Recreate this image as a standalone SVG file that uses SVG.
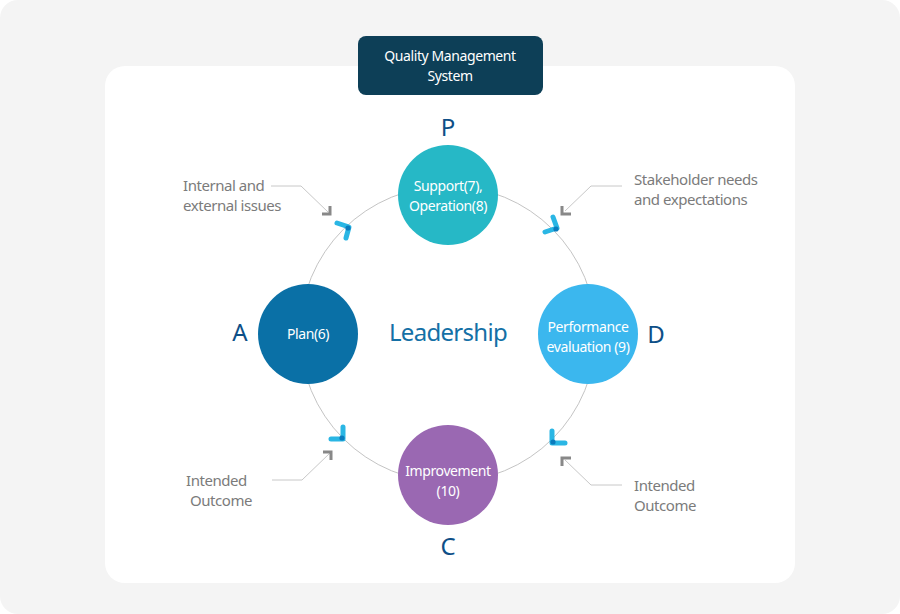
<svg xmlns="http://www.w3.org/2000/svg" width="900" height="614" viewBox="0 0 900 614">
<style>
.lbl{font-family:"Noto Sans","Liberation Sans",sans-serif;font-size:15px;fill:#7b7b7b;letter-spacing:-0.45px}
.nt{font-family:"Noto Sans","Liberation Sans",sans-serif;font-size:14px;fill:#fff;text-anchor:middle;letter-spacing:-0.4px}
.big{font-family:"Noto Sans","Liberation Sans",sans-serif;font-size:24px;fill:#0e4f87;text-anchor:middle}
.cy{fill:none;stroke:#2ab6e4;stroke-width:5;stroke-linecap:round;stroke-linejoin:round}
.gr{fill:none;stroke:#888;stroke-width:3}
.ld{fill:none;stroke:#c8c8c8;stroke-width:1}
</style>
<rect x="0" y="0" width="900" height="614" rx="18" fill="#f4f4f4"/>
<rect x="105" y="66" width="690" height="517" rx="20" fill="#fff"/>
<g id="title">
<rect x="358" y="36" width="185" height="59" rx="8" fill="#0d3f57"/>
<text class="nt" x="450" y="61">Quality Management</text>
<text class="nt" x="450" y="81">System</text>
</g>
<g id="connectors">
<circle cx="448" cy="334" r="148" fill="none" stroke="#c4c4c4" stroke-width="1"/>
<path class="ld" d="M271,186 H301 L328,212"/>
<path class="ld" d="M622,186 H591 L565,211"/>
<path class="ld" d="M622,485 H591 L565,460"/>
<path class="ld" d="M272,480 H302 L330,453"/>
<path class="gr" d="M322,214 H330 V206"/>
<path class="gr" d="M562,206 V214 H571"/>
<path class="gr" d="M562,466 V458 H571"/>
<path class="gr" d="M323,452 H331 V460"/>
<path class="cy" d="M337,223 L349,227 L346,238"/>
<path class="cy" d="M553,217 L557,228 L545,232"/>
<path class="cy" d="M552,431 L552,443 L565,443"/>
<path class="cy" d="M343,427 L343,439 L331,439"/>
<g fill="#0b7bbd">
<circle cx="348" cy="228" r="2.6"/>
<circle cx="556" cy="229" r="2.6"/>
<circle cx="553" cy="442" r="2.6"/>
<circle cx="342" cy="438" r="2.6"/>
</g>
</g>
<g id="node-support">
<circle cx="448" cy="195" r="50" fill="#26b8c6"/>
<text class="nt" x="448" y="191">Support(7),</text>
<text class="nt" x="448" y="211">Operation(8)</text>
</g>
<g id="node-plan">
<circle cx="308" cy="334" r="50" fill="#0a70a6"/>
<text class="nt" x="308" y="339">Plan(6)</text>
</g>
<g id="node-performance">
<circle cx="588" cy="334" r="50" fill="#3bb7ee"/>
<text class="nt" x="588" y="332">Performance</text>
<text class="nt" x="588" y="352">evaluation (9)</text>
</g>
<g id="node-improvement">
<circle cx="448" cy="475" r="50" fill="#9a68b2"/>
<text class="nt" x="448" y="476">Improvement</text>
<text class="nt" x="448" y="496">(10)</text>
</g>
<g id="letters">
<text class="big" x="448" y="136">P</text>
<text class="big" x="240" y="341">A</text>
<text class="big" x="656" y="343">D</text>
<text class="big" x="448" y="555">C</text>
<text class="big" x="448" y="341" style="fill:#1470a6;letter-spacing:-0.7px">Leadership</text>
</g>
<g id="labels">
<text class="lbl" x="183" y="191">Internal and</text>
<text class="lbl" x="183" y="211">external issues</text>
<text class="lbl" x="634" y="185">Stakeholder needs</text>
<text class="lbl" x="634" y="205">and expectations</text>
<text class="lbl" x="186" y="486">Intended</text>
<text class="lbl" x="190" y="506">Outcome</text>
<text class="lbl" x="634" y="491">Intended</text>
<text class="lbl" x="634" y="511">Outcome</text>
</g>
</svg>
